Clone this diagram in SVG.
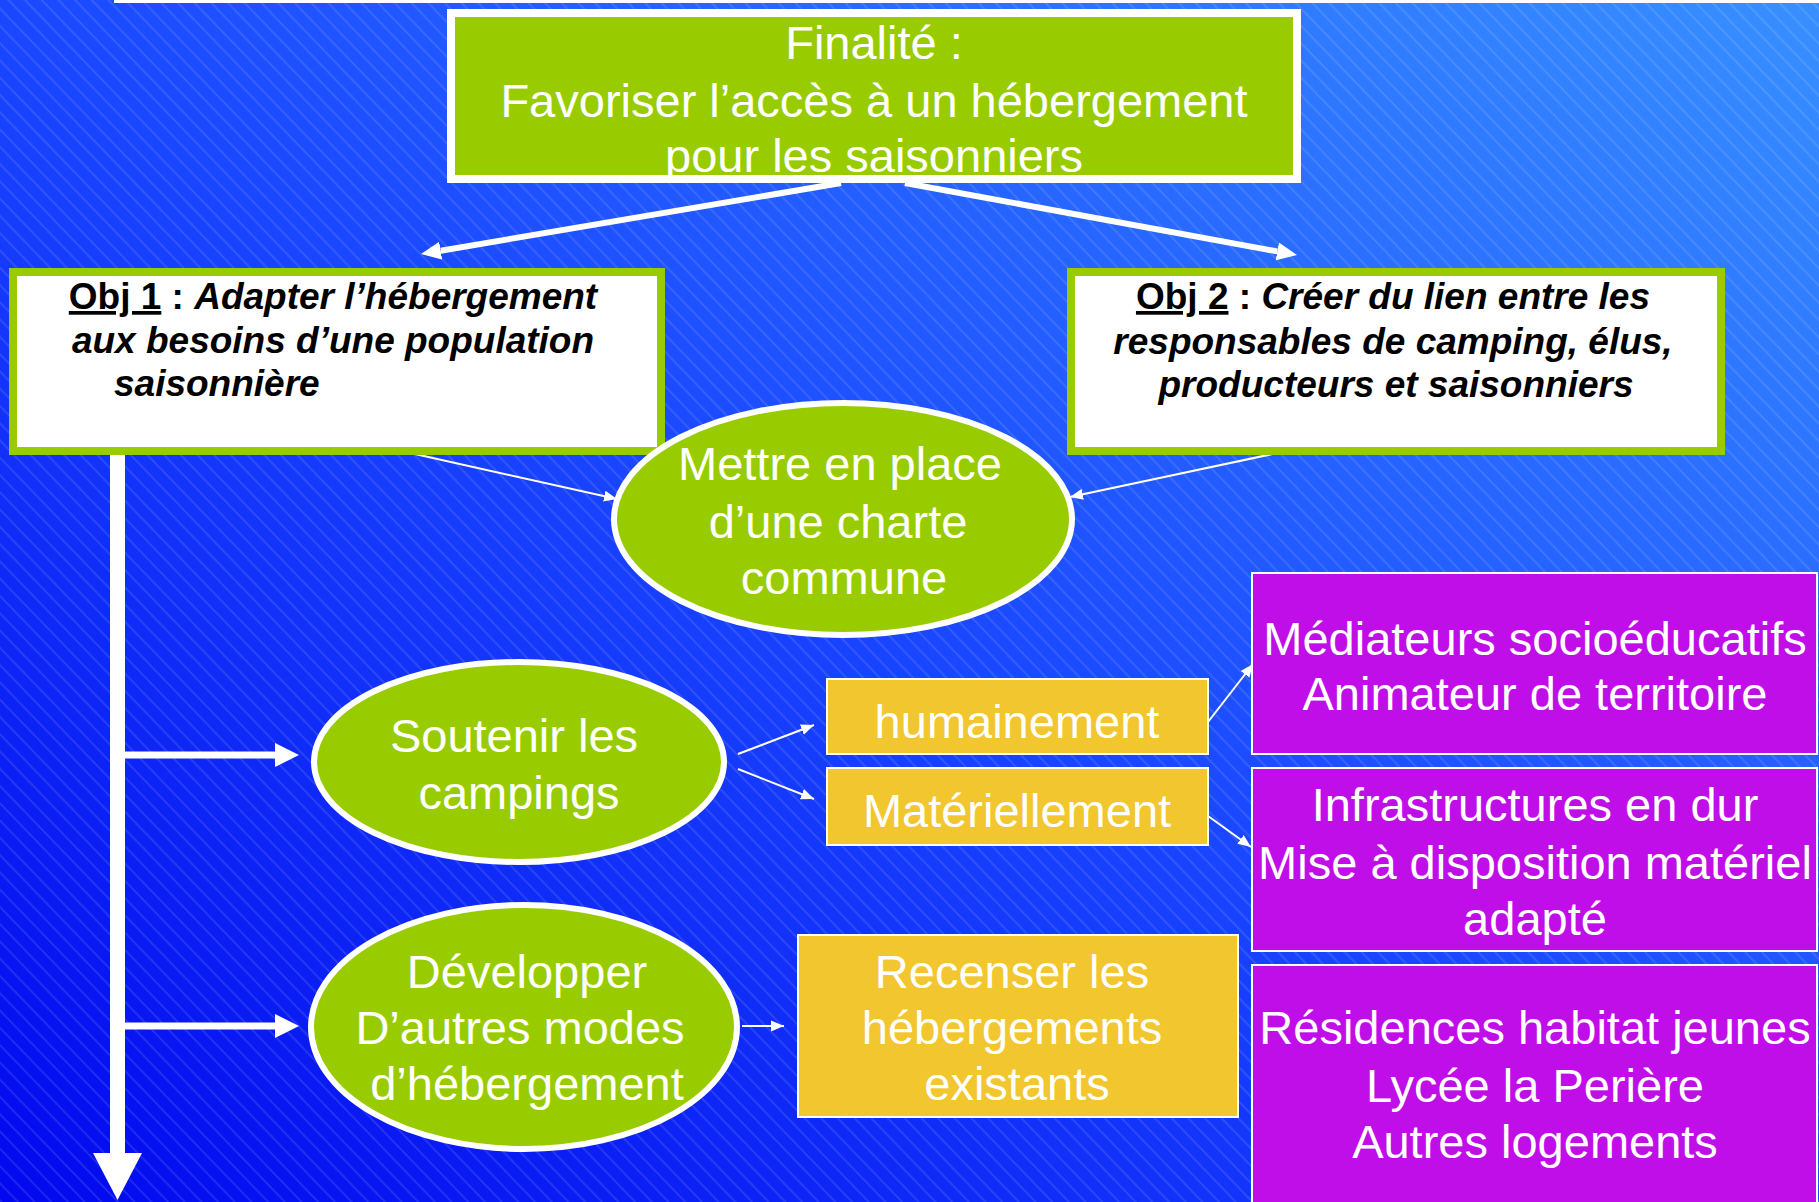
<svg xmlns="http://www.w3.org/2000/svg" width="1819" height="1202" viewBox="0 0 1819 1202">
<defs>
<linearGradient id="bg" x1="0" y1="1" x2="1" y2="0">
<stop offset="0" stop-color="#0208ee"/>
<stop offset="0.5" stop-color="#1a48ff"/>
<stop offset="1" stop-color="#3890ff"/>
</linearGradient>
<pattern id="hatch" patternUnits="userSpaceOnUse" width="12" height="40" patternTransform="rotate(-44)">
<line x1="6" y1="0" x2="6" y2="40" stroke="#ffffff" stroke-opacity="0.22" stroke-width="1"/>
</pattern>
<marker id="ahTop" markerUnits="userSpaceOnUse" markerWidth="22" markerHeight="20" viewBox="0 -10 22 20" refX="0" refY="0" orient="auto"><path d="M0,-9 L20,0 L0,9 z" fill="#fff"/></marker>
<marker id="ahBr" markerUnits="userSpaceOnUse" markerWidth="26" markerHeight="26" viewBox="0 -13 26 26" refX="0" refY="0" orient="auto"><path d="M0,-12 L24,0 L0,12 z" fill="#fff"/></marker>
<marker id="ahThin" markerUnits="userSpaceOnUse" markerWidth="14" markerHeight="12" viewBox="0 -6 14 12" refX="13" refY="0" orient="auto"><path d="M0,-5.5 L13,0 L0,5.5 z" fill="#fff"/></marker>
</defs>
<style>
.wt{font-family:"Liberation Sans",Arial,sans-serif;font-size:47px;fill:#fff;text-anchor:middle}
.bt{font-family:"Liberation Sans",Arial,sans-serif;font-size:37px;font-weight:bold;font-style:italic;fill:#000}
.green{fill:#99cc00;stroke:#fff}
.obj{fill:#fff;stroke:#99cc00;stroke-width:8}
.yel{fill:#f2c62e;stroke:#fff;stroke-width:2}
.pur{fill:#c00ee8;stroke:#fff;stroke-width:2}
.thick{stroke:#fff;fill:none}
.thin{stroke:#fff;stroke-width:2;fill:none;marker-end:url(#ahThin)}
</style>
<rect x="0" y="0" width="1819" height="1202" fill="url(#bg)"/>
<rect x="0" y="0" width="1819" height="1202" fill="url(#hatch)"/>
<rect x="114" y="0" width="1705" height="3" fill="#fff"/>

<g id="connectors">
<line class="thick" x1="841" y1="183" x2="440.7" y2="250.7" stroke-width="6" marker-end="url(#ahTop)"/>
<line class="thick" x1="905" y1="183" x2="1277.3" y2="251.4" stroke-width="6" marker-end="url(#ahTop)"/>
<line class="thin" x1="406" y1="452" x2="617" y2="499"/>
<line class="thin" x1="1282" y1="452" x2="1070" y2="497"/>
<line class="thick" x1="117.5" y1="455" x2="117.5" y2="1155" stroke-width="15"/>
<polygon points="93,1153 142,1153 117.5,1200" fill="#fff"/>
<line class="thick" x1="125" y1="755" x2="275" y2="755" stroke-width="7" marker-end="url(#ahBr)"/>
<line class="thick" x1="125" y1="1026" x2="275" y2="1026" stroke-width="7" marker-end="url(#ahBr)"/>
<line class="thin" x1="738" y1="754" x2="814" y2="725"/>
<line class="thin" x1="738" y1="769" x2="814" y2="799"/>
<line class="thin" x1="1208" y1="722" x2="1253" y2="664"/>
<line class="thin" x1="1208" y1="816" x2="1251" y2="847"/>
<line class="thin" x1="742" y1="1026" x2="784" y2="1026"/>
</g>

<g id="finalite">
<rect class="green" x="451" y="13" width="846" height="166" stroke-width="8"/>
<text class="wt" x="874" y="59">Finalité :</text>
<text class="wt" x="874" y="117">Favoriser l’accès à un hébergement</text>
<text class="wt" x="874" y="172">pour les saisonniers</text>
</g>

<g id="obj1">
<rect class="obj" x="13" y="272" width="648" height="179"/>
<text class="bt" x="333" y="309" text-anchor="middle"><tspan font-style="normal" text-decoration="underline">Obj 1</tspan><tspan font-style="normal"> : </tspan>Adapter l’hébergement</text>
<text class="bt" x="333" y="353" text-anchor="middle">aux besoins d’une population</text>
<text class="bt" x="114" y="396">saisonnière</text>
</g>

<g id="obj2">
<rect class="obj" x="1071" y="272" width="650" height="179"/>
<text class="bt" x="1393" y="309" text-anchor="middle"><tspan font-style="normal" text-decoration="underline">Obj 2</tspan><tspan font-style="normal"> : </tspan>Créer du lien entre les</text>
<text class="bt" x="1393" y="354" text-anchor="middle">responsables de camping, élus,</text>
<text class="bt" x="1396" y="397" text-anchor="middle">producteurs et saisonniers</text>
</g>

<g id="charte">
<ellipse class="green" cx="843" cy="519" rx="229" ry="116" stroke-width="6"/>
<text class="wt" x="840" y="480">Mettre en place</text>
<text class="wt" x="838" y="538">d’une charte</text>
<text class="wt" x="844" y="594">commune</text>
</g>

<g id="soutenir">
<ellipse class="green" cx="519" cy="762" rx="205" ry="100" stroke-width="6"/>
<text class="wt" x="514" y="752">Soutenir les</text>
<text class="wt" x="519" y="809">campings</text>
</g>

<g id="developper">
<ellipse class="green" cx="524" cy="1027" rx="213" ry="122" stroke-width="6"/>
<text class="wt" x="527" y="988">Développer</text>
<text class="wt" x="520" y="1044">D’autres modes</text>
<text class="wt" x="527" y="1100">d’hébergement</text>
</g>

<g id="humainement">
<rect class="yel" x="827" y="679" width="381" height="75"/>
<text class="wt" x="1017" y="738">humainement</text>
</g>

<g id="materiellement">
<rect class="yel" x="827" y="768" width="381" height="77"/>
<text class="wt" x="1017" y="827">Matériellement</text>
</g>

<g id="recenser">
<rect class="yel" x="798" y="935" width="440" height="182"/>
<text class="wt" x="1012" y="988">Recenser les</text>
<text class="wt" x="1012" y="1044">hébergements</text>
<text class="wt" x="1017" y="1100">existants</text>
</g>

<g id="mediateurs">
<rect class="pur" x="1252" y="573" width="565" height="181"/>
<text class="wt" x="1535" y="655">Médiateurs socioéducatifs</text>
<text class="wt" x="1535" y="710">Animateur de territoire</text>
</g>

<g id="infrastructures">
<rect class="pur" x="1252" y="768" width="565" height="183"/>
<text class="wt" x="1535" y="821">Infrastructures en dur</text>
<text class="wt" x="1535" y="879">Mise à disposition matériel</text>
<text class="wt" x="1535" y="935">adapté</text>
</g>

<g id="residences">
<rect class="pur" x="1252" y="965" width="565" height="250"/>
<text class="wt" x="1535" y="1044">Résidences habitat jeunes</text>
<text class="wt" x="1535" y="1102">Lycée la Perière</text>
<text class="wt" x="1535" y="1158">Autres logements</text>
</g>
</svg>
